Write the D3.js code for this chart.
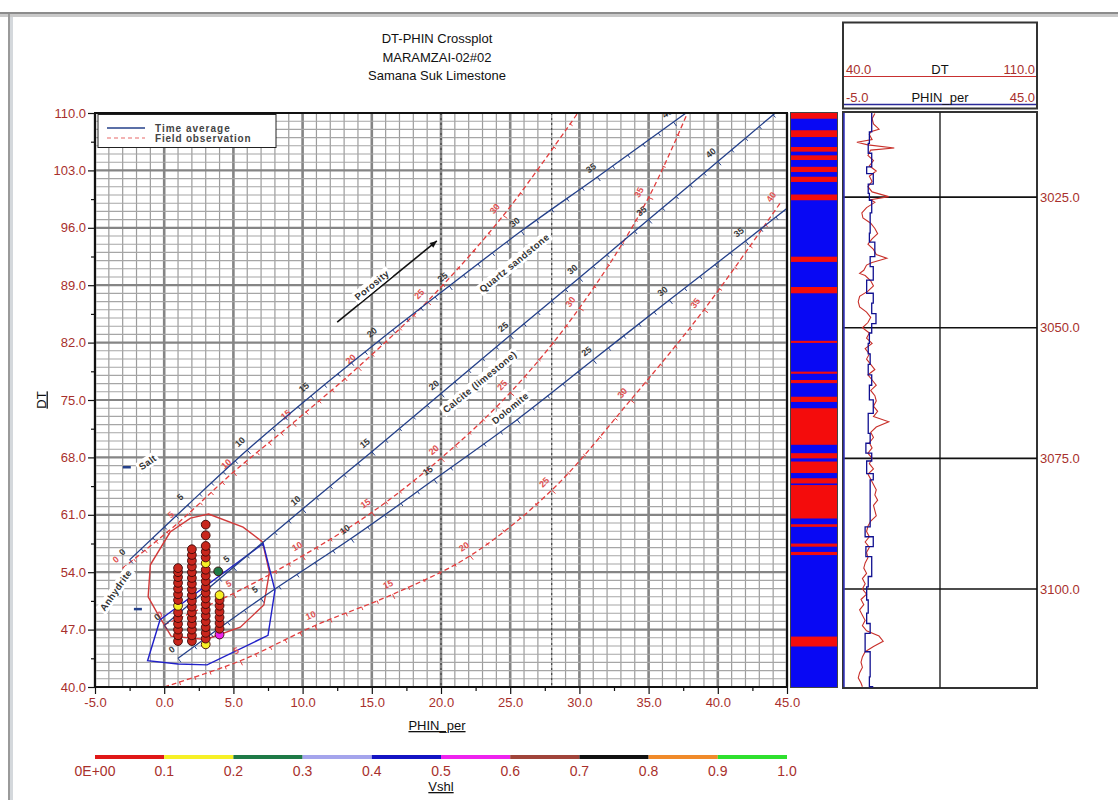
<!DOCTYPE html>
<html><head><meta charset="utf-8">
<script src="https://cdn.jsdelivr.net/npm/d3@7/dist/d3.min.js"></script>
<style>
body{margin:0;background:#fff;}
svg{display:block;font-family:Arial,"Liberation Sans",sans-serif;}
</style>
</head><body>
<svg id="chart" width="1118" height="800"></svg>
<script>
// ---------- titles and axes ----------
const titleLines = ["DT-PHIN Crossplot", "MARAMZAI-02#02", "Samana Suk Limestone"];
const phinDomain = [-5, 45];
const dtDomain = [40, 110];
const phinTicks = [-5, 0, 5, 10, 15, 20, 25, 30, 35, 40, 45];
const dtTicks = [40, 47, 54, 61, 68, 75, 82, 89, 96, 103, 110];

// ---------- lithology lines: [porosity %, PHIN, DT] ----------
const sandstoneTA = [[0,-2.5,55.5],[5,1.7,62.2],[10,6.0,68.9],[15,10.6,75.5],[20,15.5,82.2],[25,20.6,88.9],[30,25.8,95.6],[35,31.3,102.2],[40,36.8,108.9],[45,42.3,115.6]];
const limestoneTA = [[0,0,47.5],[5,5,54.6],[10,10,61.7],[15,15,68.7],[20,20,75.8],[25,25,82.9],[30,30,89.9],[35,35,97.0],[40,40,104.1],[45,45,111.2]];
const dolomiteTA  = [[0,1.0,43.5],[5,7.0,50.8],[10,13.5,58.1],[15,19.5,65.3],[20,25.5,72.6],[25,31.0,79.9],[30,36.5,87.2],[35,42.0,94.4],[40,47.5,101.7]];
const sandstoneFO = [[0,-3.0,54.5],[5,1.0,60.0],[10,5.0,66.2],[15,9.3,72.2],[20,14.0,79.0],[25,19.0,87.0],[30,24.5,97.5],[35,30.5,111.5]];
const limestoneFO = [[0,0,47.6],[5,5,51.4],[10,10,56.0],[15,15,61.3],[20,20,67.9],[25,25,75.9],[30,30,86.2],[35,35,99.7],[40,40,118.9]];
const dolomiteFO  = [[0,0.0,40.0],[5,5.5,43.2],[10,10.9,47.5],[15,16.5,51.3],[20,22.1,56.0],[25,28.0,64.0],[30,33.7,75.0],[35,39.0,86.0],[40,44.5,99.0]];

// porosity direction arrow and mineral points [PHIN, DT]
const porosityArrow = [[12.5,84.5],[19.7,94.4]];
const saltPoint = [-2.7,66.8];
const anhydritePoint = [-1.9,49.5];

// text along the chart [text, PHIN, DT]
const chartNames = [
  ["Quartz sandstone", 25.3, 91.7],
  ["Calcite (limestone)", 22.8, 77.2],
  ["Dolomite", 25.0, 74.0],
  ["Porosity", 15.0, 89.0],
  ["Salt", -1.2, 67.4],
  ["Anhydrite", -3.5, 51.8]
];

// zone envelopes [PHIN, DT]
const redZone  = [[3.2,61.1],[5.7,59.5],[7.1,57.7],[7.6,54.0],[7.2,50.0],[5.5,47.3],[3.0,45.8],[0.5,46.2],[-0.5,49.0],[-1.16,51.0],[-1.0,54.9],[0.43,58.9],[1.9,60.6]];
const blueZone = [[-0.3,48.2],[7.15,57.5],[8.0,51.8],[7.5,46.3],[3.1,42.7],[1.0,42.8],[-1.2,43.2]];

// crossplot samples [PHIN, DT, Vshl]
const samples = [
  [1,45.6,0.05],[1,46.3,0.05],[1,47.0,0.05],[1,47.7,0.05],[1,48.4,0.05],[1,49.1,0.05],[1,49.9,0.15],[1,50.6,0.05],[1,51.3,0.05],[1,52.0,0.05],[1,52.7,0.05],[1,53.4,0.05],[1,54.0,0.05],[1,54.5,0.05],
  [2,45.6,0.05],[2,46.3,0.05],[2,47.0,0.05],[2,47.7,0.05],[2,48.4,0.05],[2,49.1,0.05],[2,49.8,0.05],[2,50.5,0.05],[2,51.2,0.05],[2,51.9,0.05],[2,52.6,0.05],[2,53.3,0.05],[2,54.0,0.05],[2,54.7,0.05],[2,55.4,0.05],[2,56.1,0.05],[2,56.8,0.05],
  [3,45.2,0.15],[3,45.9,0.05],[3,46.6,0.05],[3,47.3,0.05],[3,48.0,0.05],[3,48.7,0.05],[3,49.4,0.05],[3,50.1,0.05],[3,50.8,0.05],[3,51.5,0.05],[3,52.2,0.05],[3,52.9,0.05],[3,53.6,0.05],[3,54.3,0.05],[3,55.1,0.15],[3,55.8,0.05],[3,56.5,0.05],[3,57.2,0.05],[3,58.5,0.05],[3,59.8,0.05],
  [4,46.4,0.55],[4,47.1,0.05],[4,47.8,0.05],[4,48.5,0.05],[4,49.2,0.05],[4,49.9,0.05],[4,50.6,0.05],[4,51.2,0.15],[3.9,54.1,0.25]
];

// Vshl colour key
const vshlColors = ["#e01818","#f6f026","#1e7a46","#a4a4ec","#1414c4","#ee22ee","#a0443a","#111111","#f08a2a","#2ee02e"];
const vshlTicks = [0,0.1,0.2,0.3,0.4,0.5,0.6,0.7,0.8,0.9,1.0];
const vshlTickLabels = ["0E+00","0.1","0.2","0.3","0.4","0.5","0.6","0.7","0.8","0.9","1.0"];

// ---------- depth track ----------
const depthRange = [3008.9, 3118.75];
const depthTicks = [3025, 3050, 3075, 3100];
const flagIntervals = [[3008.9,3010.0],[3012.2,3013.5],[3015.4,3016.3],[3017.0,3017.9],[3019.2,3020.2],[3021.1,3022.1],[3024.5,3025.6],[3036.4,3037.4],[3042.2,3043.4],[3052.5,3052.9],[3058.4,3058.8],[3060.0,3060.6],[3063.2,3064.2],[3065.4,3072.4],[3074.0,3075.0],[3075.6,3077.8],[3078.8,3079.8],[3080.1,3086.5],[3087.6,3088.1],[3091.3,3091.9],[3092.9,3093.5],[3109.1,3111.0]];
// PHIN log (step) [depth, PHIN]
const phinLog = [[3008.9,2.4],[3010.9,1.8],[3012.5,1.5],[3014.7,2.4],[3016.6,1.1],[3019.2,2.8],[3020.5,1.5],[3022.5,1.8],[3024.3,2.4],[3025.6,2.0],[3028,1.8],[3031.9,3.2],[3033.6,2.0],[3036.4,2.8],[3038.3,1.1],[3040.9,2.8],[3043.4,2.4],[3045.3,3.5],[3047.3,2.4],[3049.2,1.8],[3051,1.5],[3053,2.0],[3055,1.5],[3057,2.4],[3059,1.8],[3061,2.8],[3063.8,1.5],[3066.4,2.0],[3070.2,0.9],[3072.1,2.4],[3074.0,1.1],[3075.5,2.8],[3077.9,2.0],[3079.1,0.7],[3088.1,2.8],[3090.0,0.9],[3091.9,2.4],[3093.8,1.5],[3097.6,1.1],[3099.6,1.5],[3102.1,1.1],[3104.6,2.0],[3106.6,0.7],[3108.5,2.0],[3112,1.8],[3116.8,2.8],[3118.7,2.8]];
// DT log [depth, DT]
const dtLog = [[3009,51.5],[3010,50.5],[3011,51.0],[3012,53.0],[3012.5,50.0],[3013,49.5],[3014,50.5],[3014.5,45.0],[3015,49.0],[3015.6,58.5],[3016,50.0],[3017,49.0],[3018,51.0],[3019,49.5],[3020,52.0],[3021,49.5],[3022,50.5],[3023,49.0],[3024,50.5],[3024.9,56.5],[3025.5,50.0],[3026,51.5],[3027,48.5],[3028,46.8],[3029,47.2],[3030,50.0],[3031,51.5],[3032,52.5],[3033,50.5],[3034,49.0],[3035,51.0],[3036,52.0],[3036.7,55.8],[3037.5,50.5],[3038,48.5],[3039,47.5],[3039.6,46.0],[3040,48.0],[3041,50.0],[3042,51.0],[3043,49.0],[3044,46.0],[3045,45.5],[3046,46.0],[3047,48.5],[3048,50.0],[3049,49.0],[3050,47.0],[3051,49.5],[3052,48.5],[3053,50.5],[3054,48.0],[3055,49.5],[3056,48.5],[3057,50.0],[3058,51.5],[3059,49.0],[3060,50.5],[3061,52.0],[3062,50.0],[3063,51.5],[3064,52.0],[3065,51.0],[3066,52.5],[3067,51.0],[3068,56.5],[3069,52.0],[3070,50.0],[3071,51.0],[3072,49.5],[3073,50.5],[3074,49.0],[3075,50.5],[3076,49.5],[3077,51.0],[3078,49.0],[3079,50.0],[3080,51.0],[3081,52.0],[3082,51.5],[3083,52.5],[3084,51.0],[3085,51.5],[3086,52.0],[3087,50.0],[3088,49.0],[3089,48.5],[3090,49.5],[3091,48.0],[3092,49.5],[3093,48.5],[3094,49.0],[3095,48.0],[3096,47.5],[3097,48.5],[3098,47.0],[3099,48.0],[3100,47.0],[3101,48.5],[3102,46.5],[3103,47.5],[3104,46.0],[3105,47.0],[3106,48.0],[3107,47.0],[3108,48.5],[3109,53.0],[3110,54.5],[3111,51.0],[3112,48.0],[3113,47.0],[3114,46.5],[3115,47.0],[3116,46.0],[3117,45.5],[3118,46.5],[3118.7,47.0]];
const dtTrackScale = [40, 110];
const phinTrackScale = [-5, 45];

// ================= drawing =================
const svg = d3.select("#chart");
const labelRed = "#a8302c";
const P = {left:95, right:787, top:113, bottom:687};
const x = d3.scaleLinear().domain(phinDomain).range([P.left, P.right]);
const y = d3.scaleLinear().domain(dtDomain).range([P.bottom, P.top]);

// window frame
svg.append("rect").attr("x",0).attr("y",12).attr("width",1118).attr("height",2).attr("fill","#8c8c8c");
svg.append("rect").attr("x",0).attr("y",14).attr("width",1118).attr("height",3).attr("fill","#c9c9c9");
svg.append("rect").attr("x",8).attr("y",14).attr("width",2).attr("height",786).attr("fill","#9a9a9a");
svg.append("rect").attr("x",10).attr("y",17).attr("width",3).attr("height",783).attr("fill","#d4d8dc");

// titles
svg.append("g").selectAll("text").data(titleLines).join("text")
  .attr("x",437).attr("y",(d,i)=>43+i*18.5).attr("text-anchor","middle")
  .attr("font-size",13).attr("fill","#111").text(d=>d);

// clip for plot content
svg.append("defs").append("clipPath").attr("id","plotClip")
  .append("rect").attr("x",P.left).attr("y",P.top).attr("width",P.right-P.left).attr("height",P.bottom-P.top);

// grid
const grid = svg.append("g");
grid.selectAll("line.vx").data(d3.range(phinDomain[0], phinDomain[1]+0.01, 1)).join("line")
  .attr("x1",d=>x(d)).attr("x2",d=>x(d)).attr("y1",P.top).attr("y2",P.bottom)
  .attr("stroke",d=>d%5===0?"#858585":"#9c9c9c").attr("stroke-width",d=>d%5===0?2.6:1.2);
grid.selectAll("line.hy").data(d3.range(dtDomain[0], dtDomain[1]+0.01, 1)).join("line")
  .attr("y1",d=>y(d)).attr("y2",d=>y(d)).attr("x1",P.left).attr("x2",P.right)
  .attr("stroke",d=>(d-40)%7===0?"#858585":"#a6a6a6").attr("stroke-width",d=>(d-40)%7===0?2.2:1.1);
grid.selectAll("line.dot").data([20,28]).join("line")
  .attr("x1",d=>x(d)).attr("x2",d=>x(d)).attr("y1",P.top).attr("y2",P.bottom)
  .attr("stroke","#333").attr("stroke-width",1).attr("stroke-dasharray","2,3");

const content = svg.append("g").attr("clip-path","url(#plotClip)");

// zone envelopes
const poly = d3.line().x(d=>x(d[0])).y(d=>y(d[1])).curve(d3.curveLinearClosed);
content.append("path").attr("d",poly(redZone)).attr("fill","none").attr("stroke","#d23a3a").attr("stroke-width",1.4);
content.append("path").attr("d",poly(blueZone)).attr("fill","none").attr("stroke","#2020c8").attr("stroke-width",1.4);

// lithology lines
const lineGen = d3.line().x(d=>x(d[1])).y(d=>y(d[2])).curve(d3.curveCatmullRom);
function drawLithLine(data, color, dashed){
  const g = content.append("g");
  g.append("path").attr("d",lineGen(data)).attr("fill","none").attr("stroke",color)
    .attr("stroke-width",1.3).attr("stroke-dasharray",dashed?"5,3":null);
  // unit porosity ticks
  for(let i=0;i<data.length-1;i++){
    const a=data[i], b=data[i+1];
    const xa=x(a[1]), ya=y(a[2]), xb=x(b[1]), yb=y(b[2]);
    const len=Math.hypot(xb-xa,yb-ya), nx=(yb-ya)/len, ny=-(xb-xa)/len;
    const steps=b[0]-a[0];
    for(let k=0;k<steps;k++){
      const t=k/steps, px=xa+(xb-xa)*t, py=ya+(yb-ya)*t;
      const s = k===0?5:3.5;
      g.append("line").attr("x1",px).attr("y1",py).attr("x2",px-nx*s).attr("y2",py-ny*s)
        .attr("stroke",color).attr("stroke-width",1);
    }
  }
  // porosity labels every 5 %
  data.forEach((d,i)=>{
    const px=x(d[1]), py=y(d[2]);
    if(px<P.left+6||px>P.right-6||py<P.top+6||py>P.bottom-6) return;
    const nb = data[Math.min(i+1,data.length-1)], pb = data[Math.max(i-1,0)];
    const ang = Math.atan2(y(nb[2])-y(pb[2]), x(nb[1])-x(pb[1]));
    const ox = Math.sin(ang)*11, oy = -Math.cos(ang)*11;
    g.append("text").attr("transform",`translate(${px+ox},${py+oy}) rotate(${ang*180/Math.PI})`)
      .attr("text-anchor","middle").attr("dy","0.35em").attr("font-size",9).attr("font-weight","bold")
      .attr("fill",dashed?"#e05050":"#3a3a3a").text(d[0]);
  });
}
const taColor = "#24408a", foColor = "#e23c3c";
drawLithLine(sandstoneFO, foColor, true);
drawLithLine(limestoneFO, foColor, true);
drawLithLine(dolomiteFO, foColor, true);
drawLithLine(sandstoneTA, taColor, false);
drawLithLine(limestoneTA, taColor, false);
drawLithLine(dolomiteTA, taColor, false);

// porosity arrow
const arrowAng = Math.atan2(y(porosityArrow[1][1])-y(porosityArrow[0][1]), x(porosityArrow[1][0])-x(porosityArrow[0][0]));
content.append("line").attr("x1",x(porosityArrow[0][0])).attr("y1",y(porosityArrow[0][1]))
  .attr("x2",x(porosityArrow[1][0])).attr("y2",y(porosityArrow[1][1])).attr("stroke","#111").attr("stroke-width",1.6);
content.append("path").attr("transform",`translate(${x(porosityArrow[1][0])},${y(porosityArrow[1][1])}) rotate(${arrowAng*180/Math.PI})`)
  .attr("d","M0,0 L-7,-3 L-7,3 Z").attr("fill","#111");

// mineral points
[saltPoint, anhydritePoint].forEach(p=>{
  content.append("line").attr("x1",x(p[0])-4).attr("x2",x(p[0])+4).attr("y1",y(p[1])).attr("y2",y(p[1]))
    .attr("stroke","#24408a").attr("stroke-width",2.5);
});

// names along the chart lines
chartNames.forEach(([txt,px,py])=>{
  const ang = txt==="Salt"||txt==="Anhydrite" ? (txt==="Salt"?-35:-55) : arrowAng*180/Math.PI;
  const g = content.append("g").attr("transform",`translate(${x(px)},${y(py)}) rotate(${ang})`);
  const t = g.append("text").attr("text-anchor","middle").attr("dy","0.35em").attr("font-size",9.5)
    .attr("font-weight","bold").attr("fill","#333").attr("letter-spacing",0.4).text(txt);
  const w = t.node().getComputedTextLength();
  g.insert("rect","text").attr("x",-w/2-2).attr("y",-6).attr("width",w+4).attr("height",12).attr("fill","#fff");
});

// crossplot samples
const vshlColor = v => vshlColors[Math.min(9, Math.floor(v*10))];
content.append("g").selectAll("circle").data(samples).join("circle")
  .attr("cx",d=>x(d[0])).attr("cy",d=>y(d[1])).attr("r",4.4)
  .attr("fill",d=>d[2]<0.1?"#c8261c":vshlColor(d[2])).attr("stroke","#3a0808").attr("stroke-width",0.9);

// legend
const lg = svg.append("g");
lg.append("rect").attr("x",98).attr("y",114.5).attr("width",178).attr("height",33).attr("fill","#fff").attr("stroke","#222");
lg.append("line").attr("x1",107).attr("x2",145).attr("y1",128).attr("y2",128).attr("stroke",taColor).attr("stroke-width",1.6);
lg.append("line").attr("x1",107).attr("x2",145).attr("y1",138).attr("y2",138).attr("stroke","#f09a9a").attr("stroke-width",1.3).attr("stroke-dasharray","4,3");
lg.append("text").attr("x",155).attr("y",131.5).attr("font-size",10).attr("font-weight","bold").attr("fill","#444").attr("letter-spacing",1).text("Time average");
lg.append("text").attr("x",155).attr("y",142).attr("font-size",10).attr("font-weight","bold").attr("fill","#444").attr("letter-spacing",0.8).text("Field observation");

// frame
svg.append("rect").attr("x",P.left).attr("y",P.top).attr("width",P.right-P.left).attr("height",P.bottom-P.top)
  .attr("fill","none").attr("stroke","#111").attr("stroke-width",2);

// axes
const fmt = d=>d.toFixed(1);
const yAxis = svg.append("g").attr("transform",`translate(${P.left},0)`)
  .call(d3.axisLeft(y).tickValues(dtTicks).tickFormat(fmt).tickSize(7).tickPadding(2));
const yMinor = svg.append("g").attr("transform",`translate(${P.left},0)`)
  .call(d3.axisLeft(y).tickValues(dtTicks.slice(1).map(v=>v-3.5)).tickFormat("").tickSize(4));
const xAxis = svg.append("g").attr("transform",`translate(0,${P.bottom})`)
  .call(d3.axisBottom(x).tickValues(phinTicks).tickFormat(fmt).tickSize(7).tickPadding(4));
const xMinor = svg.append("g").attr("transform",`translate(0,${P.bottom})`)
  .call(d3.axisBottom(x).tickValues(phinTicks.slice(1).map(v=>v-2.5)).tickFormat("").tickSize(4));
[yAxis,yMinor,xAxis,xMinor].forEach(a=>{
  a.select(".domain").remove();
  a.selectAll("line").attr("stroke","#111").attr("stroke-width",1.2);
  a.selectAll("text").attr("fill",labelRed).attr("font-size",13).attr("font-family","Arial,'Liberation Sans',sans-serif");
});

svg.append("text").attr("transform","translate(41,400) rotate(-90)").attr("text-anchor","middle").attr("dy","0.35em")
  .attr("font-size",13).attr("fill","#111").attr("text-decoration","underline").text("DT");
svg.append("text").attr("x",437).attr("y",730).attr("text-anchor","middle")
  .attr("font-size",13).attr("fill","#111").attr("text-decoration","underline").text("PHIN_per");

// Vshl colour key
const vx = d3.scaleLinear().domain([0,1]).range([P.left,P.right]);
svg.append("g").selectAll("rect").data(vshlColors).join("rect")
  .attr("x",(d,i)=>vx(i/10)).attr("y",755).attr("width",vx(0.1)-vx(0)).attr("height",4).attr("fill",d=>d);
svg.append("g").selectAll("text").data(vshlTicks).join("text")
  .attr("x",d=>vx(d)).attr("y",776).attr("text-anchor","middle").attr("font-size",14)
  .attr("font-family","'Liberation Sans Narrow','Arial Narrow',Arial,sans-serif").attr("fill",labelRed)
  .text((d,i)=>vshlTickLabels[i]);
svg.append("text").attr("x",vx(0.5)).attr("y",791).attr("text-anchor","middle").attr("font-size",13)
  .attr("font-family","'Liberation Sans Narrow','Arial Narrow',Arial,sans-serif")
  .attr("fill","#111").attr("text-decoration","underline").text("Vshl");

// ---------- depth track ----------
const dy = d3.scaleLinear().domain(depthRange).range([113,687]);
const T = {left:843, right:1037};
const tdt = d3.scaleLinear().domain(dtTrackScale).range([T.left,T.right]);
const tph = d3.scaleLinear().domain(phinTrackScale).range([T.left,T.right]);

// flag strip
svg.append("rect").attr("x",791).attr("y",113).attr("width",46).attr("height",574).attr("fill","#0808f4");
svg.append("g").selectAll("rect").data(flagIntervals).join("rect")
  .attr("x",791).attr("width",46).attr("y",d=>dy(d[0])).attr("height",d=>Math.max(1,dy(d[1])-dy(d[0]))).attr("fill","#f40c0c");
svg.append("rect").attr("x",790.5).attr("y",112.5).attr("width",47).attr("height",575).attr("fill","none").attr("stroke","#444").attr("stroke-width",1);

// header
svg.append("rect").attr("x",843).attr("y",22.5).attr("width",194).attr("height",86).attr("fill","#fff").attr("stroke","#333").attr("stroke-width",2);
svg.append("line").attr("x1",844).attr("x2",1036).attr("y1",76.5).attr("y2",76.5).attr("stroke","#c83030").attr("stroke-width",1.2);
svg.append("line").attr("x1",844).attr("x2",1036).attr("y1",104.5).attr("y2",104.5).attr("stroke","#2a2a9a").attr("stroke-width",1.4);
const hdr = svg.append("g").attr("font-size",13);
hdr.append("text").attr("x",846).attr("y",74).attr("fill",labelRed).text(fmt(dtTrackScale[0]));
hdr.append("text").attr("x",940).attr("y",74).attr("text-anchor","middle").attr("fill","#111").text("DT");
hdr.append("text").attr("x",1035).attr("y",74).attr("text-anchor","end").attr("fill",labelRed).text(fmt(dtTrackScale[1]));
hdr.append("text").attr("x",846).attr("y",102).attr("fill",labelRed).text(fmt(phinTrackScale[0]));
hdr.append("text").attr("x",940).attr("y",102).attr("text-anchor","middle").attr("fill","#111").text("PHIN_per");
hdr.append("text").attr("x",1035).attr("y",102).attr("text-anchor","end").attr("fill",labelRed).text(fmt(phinTrackScale[1]));

// track body
svg.append("rect").attr("x",843).attr("y",112).attr("width",194).attr("height",576).attr("fill","#fff").attr("stroke","#333").attr("stroke-width",2);
svg.append("line").attr("x1",940).attr("x2",940).attr("y1",112).attr("y2",688).attr("stroke","#222").attr("stroke-width",1.4);
svg.append("g").selectAll("line").data(depthTicks).join("line")
  .attr("x1",843).attr("x2",1037).attr("y1",d=>dy(d)).attr("y2",d=>dy(d)).attr("stroke","#111").attr("stroke-width",1.6);
svg.append("g").selectAll("text").data(depthTicks).join("text")
  .attr("x",1040).attr("y",d=>dy(d)).attr("dy","0.35em").attr("font-size",13).attr("fill",labelRed).text(fmt);
svg.append("line").attr("x1",844).attr("x2",844).attr("y1",113).attr("y2",687).attr("stroke","#3030c0").attr("stroke-width",1.5);

svg.append("path").attr("d",d3.line().x(d=>tdt(d[1])).y(d=>dy(d[0]))(dtLog))
  .attr("fill","none").attr("stroke","#c8302a").attr("stroke-width",1.1);
svg.append("path").attr("d",d3.line().x(d=>tph(d[1])).y(d=>dy(d[0])).curve(d3.curveStepBefore)(phinLog.map((d,i,a)=>i===0?d:[d[0],a[i-1][1]])))
  .attr("fill","none").attr("stroke","#101090").attr("stroke-width",1.3);
</script>
</body></html>
